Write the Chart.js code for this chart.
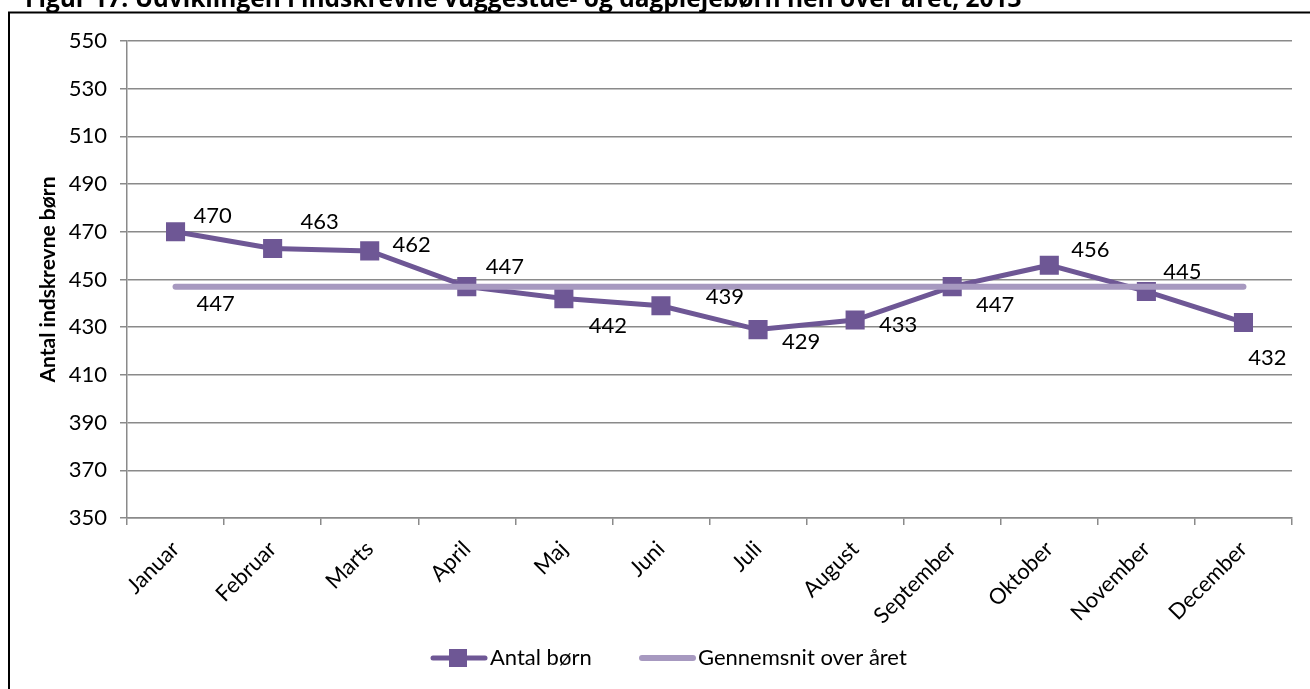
<!DOCTYPE html>
<html lang="da">
<head>
<meta charset="utf-8">
<title>Figur 17</title>
<script src="https://cdn.jsdelivr.net/npm/chart.js@4.4.1/dist/chart.umd.min.js"></script>
<style>
    html, body { margin: 0; padding: 0; background: #fff; overflow: hidden; }
    #wrap { position: relative; width: 1310px; height: 689px; }
    canvas { display: block; }
</style>
</head>
<body>
<div id="wrap"><canvas id="chart" width="1310" height="689"></canvas></div>
<script>
const TITLE = "Figur 17: Udviklingen i indskrevne vuggestue- og dagplejebørn hen over året, 2013";
const Y_TITLE = "Antal indskrevne børn";

const months = ["Januar", "Februar", "Marts", "April", "Maj", "Juni", "Juli", "August", "September", "Oktober", "November", "December"];
const antalBoern = [470, 463, 462, 447, 442, 439, 429, 433, 447, 456, 445, 432];
const gennemsnit = [447, 447, 447, 447, 447, 447, 447, 447, 447, 447, 447, 447];
const yTicks = [350, 370, 390, 410, 430, 450, 470, 490, 510, 530, 550];

// where each value label sits relative to its point (px), as placed in the original
const labelShift = [[37, -16], [47, -27], [42, -6], [38, -20], [44, 27], [64, -9], [43, 12], [43, 5], [43, 18], [41, -15], [36, -20], [24, 35]];
const avgLabelShift = [40, 17];

const SERIES_COLOR = "#6E5795";
const AVG_COLOR = "#A799C0";
const GRID_COLOR = "#8A8A8A";
const FONT = "Lato";

const frame = {
    id: "frame",
    beforeDraw(chart) {
        const ctx = chart.ctx;
        ctx.save();
        ctx.fillStyle = "#fff";
        ctx.fillRect(0, 0, chart.width, chart.height);
        ctx.restore();
    },
    afterDraw(chart) {
        const ctx = chart.ctx;
        ctx.save();
        // box round the figure (only left and top are inside the picture)
        ctx.strokeStyle = "#000";
        ctx.lineWidth = 2;
        ctx.beginPath();
        ctx.moveTo(9, chart.height + 5);
        ctx.lineTo(9, 12.5);
        ctx.lineTo(chart.width + 5, 12.5);
        ctx.stroke();

        // title, cut by the top edge
        ctx.fillStyle = "#000";
        ctx.font = `bold 24.5px "Open Sans"`;
        ctx.textBaseline = "alphabetic";
        ctx.textAlign = "left";
        ctx.fillText(TITLE, 25, 7);

        // legend
        const y = 658;
        const cx = chart.width / 2;
        ctx.lineCap = "round";
        ctx.strokeStyle = SERIES_COLOR;
        ctx.lineWidth = 5;
        ctx.beginPath();
        ctx.moveTo(cx - 222, y);
        ctx.lineTo(cx - 170, y);
        ctx.stroke();
        ctx.fillStyle = SERIES_COLOR;
        ctx.fillRect(cx - 206, y - 9, 18, 18);
        ctx.fillStyle = "#000";
        ctx.font = `22px ${FONT}`;
        ctx.textBaseline = "middle";
        ctx.fillText(chart.data.datasets[0].label, cx - 165, y);

        ctx.strokeStyle = AVG_COLOR;
        ctx.lineWidth = 6;
        ctx.beginPath();
        ctx.moveTo(cx - 13, y);
        ctx.lineTo(cx + 38, y);
        ctx.stroke();
        ctx.fillText(chart.data.datasets[1].label, cx + 43, y);
        ctx.restore();
    }
};

const valueLabels = {
    id: "valueLabels",
    afterDatasetsDraw(chart) {
        const ctx = chart.ctx;
        ctx.save();
        ctx.fillStyle = "#000";
        ctx.font = `22px ${FONT}`;
        ctx.textAlign = "center";
        ctx.textBaseline = "middle";
        const meta = chart.getDatasetMeta(0);
        meta.data.forEach((pt, i) => {
            const [dx, dy] = labelShift[i];
            ctx.fillText(String(antalBoern[i]), pt.x + dx, pt.y + dy);
        });
        const avgPt = chart.getDatasetMeta(1).data[0];
        ctx.fillText(String(gennemsnit[0]), avgPt.x + avgLabelShift[0], avgPt.y + avgLabelShift[1]);
        ctx.restore();
    }
};

new Chart(document.getElementById("chart"), {
    type: "line",
    data: {
        labels: months,
        datasets: [{
            label: "Antal børn",
            data: antalBoern,
            borderColor: SERIES_COLOR,
            backgroundColor: SERIES_COLOR,
            borderWidth: 5,
            pointStyle: "rect",
            pointRadius: 13.5,
            pointBorderWidth: 0,
            pointBackgroundColor: SERIES_COLOR,
            tension: 0,
            order: 2
        }, {
            label: "Gennemsnit over året",
            data: gennemsnit,
            borderColor: AVG_COLOR,
            borderWidth: 6,
            borderCapStyle: "round",
            pointRadius: 0,
            tension: 0,
            order: 1
        }]
    },
    options: {
        responsive: false,
        animation: false,
        devicePixelRatio: 1,
        layout: { padding: { left: 10, top: 41, right: 18, bottom: 0 } },
        plugins: {
            legend: { display: false },
            tooltip: { enabled: false }
        },
        scales: {
            x: {
                offset: true,
                grid: {
                    offset: true,
                    drawOnChartArea: false,
                    drawTicks: true,
                    tickLength: 7,
                    color: GRID_COLOR,
                    lineWidth: 1.5
                },
                border: { color: GRID_COLOR, width: 1.5 },
                ticks: {
                    color: "#000",
                    font: { family: FONT, size: 22 },
                    minRotation: 45,
                    maxRotation: 45,
                    padding: 11,
                    autoSkip: false
                },
                afterFit: scale => { scale.height = 171; }
            },
            y: {
                min: 350,
                max: 550,
                afterBuildTicks: scale => { scale.ticks = yTicks.map(v => ({ value: v })); },
                grid: {
                    color: GRID_COLOR,
                    lineWidth: 1.5,
                    tickLength: 7
                },
                border: { color: GRID_COLOR, width: 1.5 },
                ticks: {
                    color: "#000",
                    font: { family: FONT, size: 22 },
                    padding: 13
                },
                title: {
                    display: true,
                    text: Y_TITLE,
                    color: "#000",
                    font: { family: FONT, size: 21, weight: "bold" },
                    padding: { top: 26, bottom: 0 }
                },
                afterFit: scale => { scale.width = 117; }
            }
        }
    },
    plugins: [frame, valueLabels]
});
</script>
</body>
</html>
